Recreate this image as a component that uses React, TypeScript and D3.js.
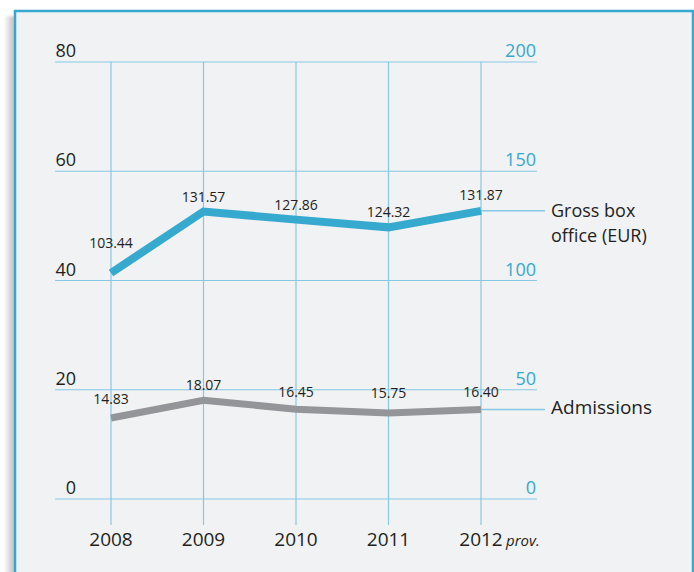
import React from "react";
import * as d3 from "d3";

const years = ["2008", "2009", "2010", "2011", "2012"];
const grossBoxOffice = [103.44, 131.57, 127.86, 124.32, 131.87];
const admissions = [14.83, 18.07, 16.45, 15.75, 16.4];
const leftTicks = [0, 20, 40, 60, 80];
const rightTicks = [0, 50, 100, 150, 200];
const grossLabels = ["103.44", "131.57", "127.86", "124.32", "131.87"];
const admissionLabels = ["14.83", "18.07", "16.45", "15.75", "16.40"];

const W = 694;
const H = 572;
const FONT = "'Open Sans', 'Noto Sans', sans-serif";
const GRID = "#86c8e4";
const BLUE = "#36a9cf";
const GRAY = "#939598";
const TEXT = "#231f20";

// label vertical offsets (styling)
const grossDy = [25, 10, 10, 10, 11];
const admDy = [14, 10, 12, 15, 12];

export default function App() {
  const x = d3.scalePoint<string>().domain(years).range([111, 481]).padding(0);
  const yL = d3.scaleLinear().domain([0, 80]).range([499, 62]);
  const yR = d3.scaleLinear().domain([0, 200]).range([499, 62]);

  const lineGross = d3
    .line<number>()
    .x((_, i) => x(years[i]) as number)
    .y((d) => yR(d));
  const lineAdm = d3
    .line<number>()
    .x((_, i) => x(years[i]) as number)
    .y((d) => yL(d));

  const xLast = x(years[years.length - 1]) as number;
  const gLastY = yR(grossBoxOffice[grossBoxOffice.length - 1]);
  const aLastY = yL(admissions[admissions.length - 1]);

  return (
    <svg
      width={W}
      height={H}
      style={{ position: "absolute", left: 0, top: 0, background: "#fff" }}
      fontFamily={FONT}
    >
      <defs>
        <linearGradient id="shadow" x1="0" x2="1" y1="0" y2="0">
          <stop offset="0" stopColor="#ffffff" />
          <stop offset="1" stopColor="#b8b8b8" />
        </linearGradient>
        <filter id="blur">
          <feGaussianBlur stdDeviation="1.5" />
        </filter>
      </defs>
      <rect x={4} y={16} width={11} height={H} fill="url(#shadow)" filter="url(#blur)" />
      <rect
        x={15}
        y={11}
        width={678}
        height={H + 20}
        fill="#f1f2f4"
        stroke={BLUE}
        strokeWidth={2.5}
      />

      {/* horizontal grid */}
      {leftTicks.map((t) => (
        <line
          key={"h" + t}
          x1={55}
          x2={537}
          y1={yL(t)}
          y2={yL(t)}
          stroke={GRID}
          strokeWidth={1.2}
        />
      ))}
      {/* vertical grid */}
      {years.map((yr) => (
        <line
          key={"v" + yr}
          x1={x(yr)}
          x2={x(yr)}
          y1={yL(80)}
          y2={525}
          stroke={GRID}
          strokeWidth={1.2}
        />
      ))}

      {/* left axis labels */}
      {leftTicks.map((t) => (
        <text
          key={"l" + t}
          x={76}
          y={yL(t) - 5}
          textAnchor="end"
          fontSize={18}
          fill={TEXT}
        >
          {t}
        </text>
      ))}
      {/* right axis labels */}
      {rightTicks.map((t) => (
        <text
          key={"r" + t}
          x={536}
          y={yR(t) - 5}
          textAnchor="end"
          fontSize={18}
          fill={BLUE}
        >
          {t}
        </text>
      ))}

      {/* x labels */}
      {years.map((yr) => (
        <text
          key={"x" + yr}
          x={x(yr)}
          y={546}
          textAnchor="middle"
          fontSize={19}
          fill={TEXT}
        >
          {yr}
        </text>
      ))}
      <text x={xLast + 25} y={546} fontSize={15} fontStyle="italic" fill={TEXT}>
        prov.
      </text>

      {/* legend leaders */}
      <line x1={xLast} x2={545} y1={gLastY} y2={gLastY} stroke={GRID} strokeWidth={1.5} />
      <line x1={xLast} x2={545} y1={aLastY} y2={aLastY} stroke={GRID} strokeWidth={1.5} />

      {/* lines */}
      <path d={lineGross(grossBoxOffice) || ""} fill="none" stroke={BLUE} strokeWidth={8} />
      <path d={lineAdm(admissions) || ""} fill="none" stroke={GRAY} strokeWidth={7} />

      {/* data labels */}
      {grossBoxOffice.map((v, i) => (
        <text
          key={"gl" + i}
          x={x(years[i])}
          y={yR(v) - grossDy[i]}
          textAnchor="middle"
          fontSize={14}
          fill={TEXT}
        >
          {grossLabels[i]}
        </text>
      ))}
      {admissions.map((v, i) => (
        <text
          key={"al" + i}
          x={x(years[i])}
          y={yL(v) - admDy[i]}
          textAnchor="middle"
          fontSize={14}
          fill={TEXT}
        >
          {admissionLabels[i]}
        </text>
      ))}

      {/* legend text */}
      <text x={551} y={gLastY + 6} fontSize={18} fill={TEXT}>
        Gross box
      </text>
      <text x={551} y={gLastY + 31} fontSize={18} fill={TEXT}>
        office (EUR)
      </text>
      <text x={551} y={aLastY + 5} fontSize={19} fill={TEXT}>
        Admissions
      </text>
    </svg>
  );
}
